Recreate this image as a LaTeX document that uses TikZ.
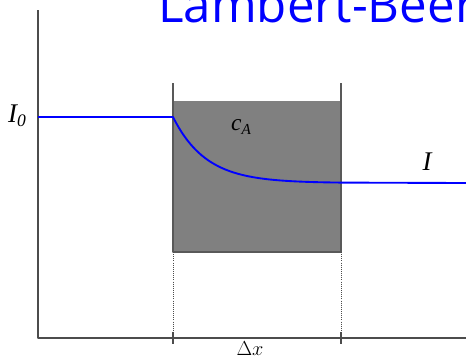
\documentclass[tikz,border=0pt]{standalone}
\usepackage{fontspec}
\setmainfont{Liberation Serif}
\newfontfamily\titlefont{Open Sans}
\tikzset{
  axis/.style={draw=black!70, line width=1.3pt},
  wall/.style={draw=black!65, line width=1.3pt},
  beam/.style={draw=blue, line width=1.6pt},
  lbl/.style={inner sep=0pt, font=\fontsize{23}{23}\selectfont\itshape}
}
\begin{document}
\begin{tikzpicture}[x=0.03cm, y=-0.03cm, line join=round, line cap=butt]
\useasboundingbox (0,0) rectangle (466,360);
\node[anchor=base west, inner sep=0pt, text=blue, font=\titlefont\fontsize{42}{42}\selectfont] (title) at (158,22) {Lambert-Beer};
% cuvette
\coordinate (lt) at (173,83);
\coordinate (rt) at (341,83);
\coordinate (lb) at (173,252);
\coordinate (rb) at (341,252);
\coordinate (la) at (173,338);
\coordinate (ra) at (341,338);
\fill[gray!100] (173,101) rectangle (rb);
\draw[wall] (lt) -- (lb) -- (rb) -- (rt);
% axes
\coordinate (o) at (38,338);
\draw[axis] (38,10) -- (o) -- (466,338);
\draw[densely dotted, black!70, line width=0.8pt] (lb) -- (la) (rb) -- (ra);
\draw[axis] (173,332) -- (173,344) (341,332) -- (341,344);
% intensity
\draw[beam] (38,117) -- (173,117)
  -- plot[domain=173:341, samples=60] (\x, {183-66*exp(-(\x-173)/33)})
  -- (466,183);
\node[lbl, anchor=base west] (i0) at (8,122) {I\raisebox{-0.4ex}{\fontsize{15}{15}\selectfont 0}};
\node[lbl] (i) at (427,162) {I};
\node[lbl, anchor=base west, font=\fontsize{20}{20}\selectfont\itshape] (ca) at (231,130) {c\raisebox{-0.45ex}{\fontsize{13}{13}\selectfont A}};
\node[inner sep=0pt, font=\fontsize{16}{16}\selectfont, anchor=base] (dx) at (250,355) {$\Delta x$};
\end{tikzpicture}
\end{document}
